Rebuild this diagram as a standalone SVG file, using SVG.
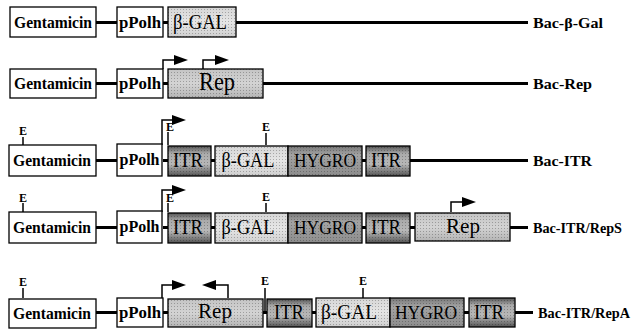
<svg xmlns="http://www.w3.org/2000/svg" width="637" height="330" viewBox="0 0 637 330">
<defs>
  <linearGradient id="gBgal" x1="0" y1="0" x2="0" y2="1">
    <stop offset="0" stop-color="#d6d6d6"/><stop offset="0.5" stop-color="#e6e6e6"/><stop offset="1" stop-color="#cfcfcf"/>
  </linearGradient>
  <linearGradient id="gRep" x1="0" y1="0" x2="0" y2="1">
    <stop offset="0" stop-color="#c4c4c4"/><stop offset="0.5" stop-color="#d4d4d4"/><stop offset="1" stop-color="#b4b4b4"/>
  </linearGradient>
  <linearGradient id="gItr" x1="0" y1="0" x2="0" y2="1">
    <stop offset="0" stop-color="#555"/><stop offset="0.25" stop-color="#aaa"/><stop offset="0.6" stop-color="#b8b8b8"/><stop offset="1" stop-color="#555"/>
  </linearGradient>
  <linearGradient id="gHyg" x1="0" y1="0" x2="0" y2="1">
    <stop offset="0" stop-color="#777"/><stop offset="0.3" stop-color="#a4a4a4"/><stop offset="1" stop-color="#8c8c8c"/>
  </linearGradient>
  <pattern id="dots" width="3" height="3" patternUnits="userSpaceOnUse">
    <rect x="0" y="0" width="1" height="1" fill="#000" fill-opacity="0.25"/>
  </pattern>
  <marker id="ah" markerWidth="14" markerHeight="10" refX="1" refY="5" orient="auto" markerUnits="userSpaceOnUse">
    <path d="M0,0 L14,5 L0,10 Z" fill="#000"/>
  </marker>
</defs>
<style>
  .box{stroke:#000;stroke-width:1.3}
  .white{fill:#fff}
  .bgal{fill:url(#gBgal)}
  .rep{fill:url(#gRep)}
  .itr{fill:url(#gItr)}
  .hyg{fill:url(#gHyg)}
  .dot{fill:url(#dots);stroke:none}
  text{font-family:'Liberation Serif','Times New Roman','DejaVu Serif',serif;fill:#000}
  .bold{font-weight:bold}
  .lbl{font-size:16px}
  .rl{font-size:14.5px}
  .gl{font-size:20px}
  .e{font-size:12px}
  .ln{stroke:#000;stroke-width:3;fill:none}
  .tk{stroke:#000;stroke-width:1.5;fill:none}
  .ar{stroke:#000;stroke-width:1.5;fill:none;marker-end:url(#ah)}
</style>

<g id="connectors">
  <line class="ln" x1="96" y1="22.5" x2="117" y2="22.5"/>
  <line class="ln" x1="163" y1="22.5" x2="168" y2="22.5"/>
  <line class="ln" x1="236" y1="22.5" x2="528" y2="22.5"/>
  <line class="ln" x1="96" y1="83.5" x2="117" y2="83.5"/>
  <line class="ln" x1="163" y1="83.5" x2="168" y2="83.5"/>
  <line class="ln" x1="263" y1="83.5" x2="528" y2="83.5"/>
  <path class="ar" d="M163,69 V60 H175"/>
  <path class="ar" d="M203,69 V60 H216"/>
  <line class="ln" x1="96" y1="160.5" x2="117" y2="160.5"/>
  <line class="ln" x1="163" y1="160.5" x2="168" y2="160.5"/>
  <line class="ln" x1="211" y1="160.5" x2="215" y2="160.5"/>
  <line class="ln" x1="362" y1="160.5" x2="366" y2="160.5"/>
  <line class="ln" x1="410" y1="160.5" x2="528" y2="160.5"/>
  <path class="ar" d="M162,145 V120 H173"/>
  <line class="tk" x1="23" y1="137" x2="23" y2="145"/>
  <line class="tk" x1="168" y1="132" x2="168" y2="145"/>
  <line class="tk" x1="266" y1="133" x2="266" y2="145"/>
  <line class="ln" x1="96" y1="227.5" x2="117" y2="227.5"/>
  <line class="ln" x1="163" y1="227.5" x2="168" y2="227.5"/>
  <line class="ln" x1="211" y1="227.5" x2="215" y2="227.5"/>
  <line class="ln" x1="362" y1="227.5" x2="366" y2="227.5"/>
  <line class="ln" x1="410" y1="227.5" x2="415" y2="227.5"/>
  <line class="ln" x1="510" y1="227.5" x2="528" y2="227.5"/>
  <path class="ar" d="M162,212 V190 H173"/>
  <path class="ar" d="M451,212 V202 H463"/>
  <line class="tk" x1="23" y1="203" x2="23" y2="212"/>
  <line class="tk" x1="168" y1="203" x2="168" y2="212"/>
  <line class="tk" x1="266" y1="203" x2="266" y2="212"/>
  <line class="ln" x1="96" y1="312.5" x2="117" y2="312.5"/>
  <line class="ln" x1="163" y1="312.5" x2="168" y2="312.5"/>
  <line class="ln" x1="263" y1="312.5" x2="267" y2="312.5"/>
  <line class="ln" x1="312" y1="312.5" x2="316" y2="312.5"/>
  <line class="ln" x1="464" y1="312.5" x2="469" y2="312.5"/>
  <line class="ln" x1="515" y1="312.5" x2="533" y2="312.5"/>
  <path class="ar" d="M162,298 V285 H173"/>
  <path class="ar" d="M228,298 V285 H215"/>
  <line class="tk" x1="23" y1="288" x2="23" y2="298"/>
  <line class="tk" x1="265" y1="288" x2="265" y2="312"/>
  <line class="tk" x1="363" y1="288" x2="363" y2="298"/>
</g>

<g id="e-sites" class="bold e" text-anchor="middle">
  <text x="23" y="135">E</text>
  <text x="170" y="131">E</text>
  <text x="266" y="131">E</text>
  <text x="23" y="202">E</text>
  <text x="170" y="202">E</text>
  <text x="266" y="201">E</text>
  <text x="23" y="286">E</text>
  <text x="265" y="285">E</text>
  <text x="363" y="285">E</text>
</g>

<g id="r1-gent"><rect class="box white" x="10" y="7" width="86" height="30"/><text class="bold lbl" x="53" y="28" text-anchor="middle" textLength="78" lengthAdjust="spacingAndGlyphs">Gentamicin</text></g>
<g id="r1-ppolh"><rect class="box white" x="117" y="7" width="46" height="30"/><text class="bold lbl" x="140" y="28" text-anchor="middle" textLength="42" lengthAdjust="spacingAndGlyphs">pPolh</text></g>
<g id="r1-bgal"><rect class="box bgal" x="168" y="7" width="68" height="30"/><rect class="dot" x="168" y="7" width="68" height="30"/><text class="gl" x="200" y="29" text-anchor="middle" textLength="54" lengthAdjust="spacingAndGlyphs">β-GAL</text></g>
<g id="r1-label"><text class="bold rl" x="533" y="28" textLength="70" lengthAdjust="spacingAndGlyphs">Bac-β-Gal</text></g>

<g id="r2-gent"><rect class="box white" x="10" y="69" width="86" height="29"/><text class="bold lbl" x="53" y="89" text-anchor="middle" textLength="78" lengthAdjust="spacingAndGlyphs">Gentamicin</text></g>
<g id="r2-ppolh"><rect class="box white" x="117" y="69" width="46" height="29"/><text class="bold lbl" x="140" y="89" text-anchor="middle" textLength="42" lengthAdjust="spacingAndGlyphs">pPolh</text></g>
<g id="r2-rep"><rect class="box rep" x="168" y="69" width="95" height="29"/><rect class="dot" x="168" y="69" width="95" height="29"/><text style="font-size:25px" x="217" y="90" text-anchor="middle" textLength="36" lengthAdjust="spacingAndGlyphs">Rep</text></g>
<g id="r2-label"><text class="bold rl" x="533" y="89" textLength="59" lengthAdjust="spacingAndGlyphs">Bac-Rep</text></g>

<g id="r3-gent"><rect class="box white" x="9" y="145" width="87" height="31"/><text class="bold lbl" x="52" y="166" text-anchor="middle" textLength="78" lengthAdjust="spacingAndGlyphs">Gentamicin</text></g>
<g id="r3-ppolh"><rect class="box white" x="117" y="144" width="45" height="32"/><text class="bold lbl" x="139.5" y="165" text-anchor="middle" textLength="40" lengthAdjust="spacingAndGlyphs">pPolh</text></g>
<g id="r3-itr1"><rect class="box itr" x="168" y="146" width="43" height="30"/><rect class="dot" x="168" y="146" width="43" height="30"/><text class="gl" x="188" y="167" text-anchor="middle" textLength="30" lengthAdjust="spacingAndGlyphs">ITR</text></g>
<g id="r3-bgal"><rect class="box bgal" x="215" y="146" width="73" height="30"/><rect class="dot" x="215" y="146" width="73" height="30"/><text class="gl" x="248" y="167" text-anchor="middle" textLength="53" lengthAdjust="spacingAndGlyphs">β-GAL</text></g>
<g id="r3-hygro"><rect class="box hyg" x="288" y="146" width="74" height="30"/><rect class="dot" x="288" y="146" width="74" height="30"/><text style="font-size:18px" x="325" y="167" text-anchor="middle" textLength="62" lengthAdjust="spacingAndGlyphs">HYGRO</text></g>
<g id="r3-itr2"><rect class="box itr" x="366" y="146" width="44" height="30"/><rect class="dot" x="366" y="146" width="44" height="30"/><text class="gl" x="386" y="167" text-anchor="middle" textLength="30" lengthAdjust="spacingAndGlyphs">ITR</text></g>
<g id="r3-label"><text class="bold rl" x="533" y="166" textLength="59" lengthAdjust="spacingAndGlyphs">Bac-ITR</text></g>

<g id="r4-gent"><rect class="box white" x="9" y="212" width="87" height="31"/><text class="bold lbl" x="52" y="233" text-anchor="middle" textLength="78" lengthAdjust="spacingAndGlyphs">Gentamicin</text></g>
<g id="r4-ppolh"><rect class="box white" x="117" y="211" width="45" height="32"/><text class="bold lbl" x="139.5" y="232" text-anchor="middle" textLength="40" lengthAdjust="spacingAndGlyphs">pPolh</text></g>
<g id="r4-itr1"><rect class="box itr" x="168" y="213" width="43" height="30"/><rect class="dot" x="168" y="213" width="43" height="30"/><text class="gl" x="188" y="234" text-anchor="middle" textLength="30" lengthAdjust="spacingAndGlyphs">ITR</text></g>
<g id="r4-bgal"><rect class="box bgal" x="215" y="213" width="73" height="30"/><rect class="dot" x="215" y="213" width="73" height="30"/><text class="gl" x="248" y="234" text-anchor="middle" textLength="53" lengthAdjust="spacingAndGlyphs">β-GAL</text></g>
<g id="r4-hygro"><rect class="box hyg" x="288" y="213" width="74" height="30"/><rect class="dot" x="288" y="213" width="74" height="30"/><text style="font-size:18px" x="325" y="234" text-anchor="middle" textLength="62" lengthAdjust="spacingAndGlyphs">HYGRO</text></g>
<g id="r4-itr2"><rect class="box itr" x="366" y="213" width="44" height="30"/><rect class="dot" x="366" y="213" width="44" height="30"/><text class="gl" x="386" y="234" text-anchor="middle" textLength="30" lengthAdjust="spacingAndGlyphs">ITR</text></g>
<g id="r4-rep"><rect class="box rep" x="415" y="213" width="95" height="28"/><rect class="dot" x="415" y="213" width="95" height="28"/><text class="gl" x="463" y="233" text-anchor="middle" textLength="34" lengthAdjust="spacingAndGlyphs">Rep</text></g>
<g id="r4-label"><text class="bold rl" x="533" y="233" textLength="89" lengthAdjust="spacingAndGlyphs">Bac-ITR/RepS</text></g>

<g id="r5-gent"><rect class="box white" x="9" y="299" width="87" height="29"/><text class="bold lbl" x="52" y="319" text-anchor="middle" textLength="78" lengthAdjust="spacingAndGlyphs">Gentamicin</text></g>
<g id="r5-ppolh"><rect class="box white" x="117" y="298" width="46" height="29"/><text class="bold lbl" x="140" y="318" text-anchor="middle" textLength="42" lengthAdjust="spacingAndGlyphs">pPolh</text></g>
<g id="r5-rep"><rect class="box rep" x="168" y="299" width="95" height="28"/><rect class="dot" x="168" y="299" width="95" height="28"/><text class="gl" x="215" y="318" text-anchor="middle" textLength="34" lengthAdjust="spacingAndGlyphs">Rep</text></g>
<g id="r5-itr1"><rect class="box itr" x="267" y="299" width="45" height="28"/><rect class="dot" x="267" y="299" width="45" height="28"/><text class="gl" x="289" y="319" text-anchor="middle" textLength="30" lengthAdjust="spacingAndGlyphs">ITR</text></g>
<g id="r5-bgal"><rect class="box bgal" x="316" y="298" width="74" height="29"/><rect class="dot" x="316" y="298" width="74" height="29"/><text class="gl" x="349" y="319" text-anchor="middle" textLength="56" lengthAdjust="spacingAndGlyphs">β-GAL</text></g>
<g id="r5-hygro"><rect class="box hyg" x="390" y="298" width="74" height="29"/><rect class="dot" x="390" y="298" width="74" height="29"/><text style="font-size:18px" x="426" y="319" text-anchor="middle" textLength="62" lengthAdjust="spacingAndGlyphs">HYGRO</text></g>
<g id="r5-itr2"><rect class="box itr" x="469" y="298" width="46" height="29"/><rect class="dot" x="469" y="298" width="46" height="29"/><text class="gl" x="489" y="319" text-anchor="middle" textLength="30" lengthAdjust="spacingAndGlyphs">ITR</text></g>
<g id="r5-label"><text class="bold rl" x="538" y="318" textLength="92" lengthAdjust="spacingAndGlyphs">Bac-ITR/RepA</text></g>
</svg>
